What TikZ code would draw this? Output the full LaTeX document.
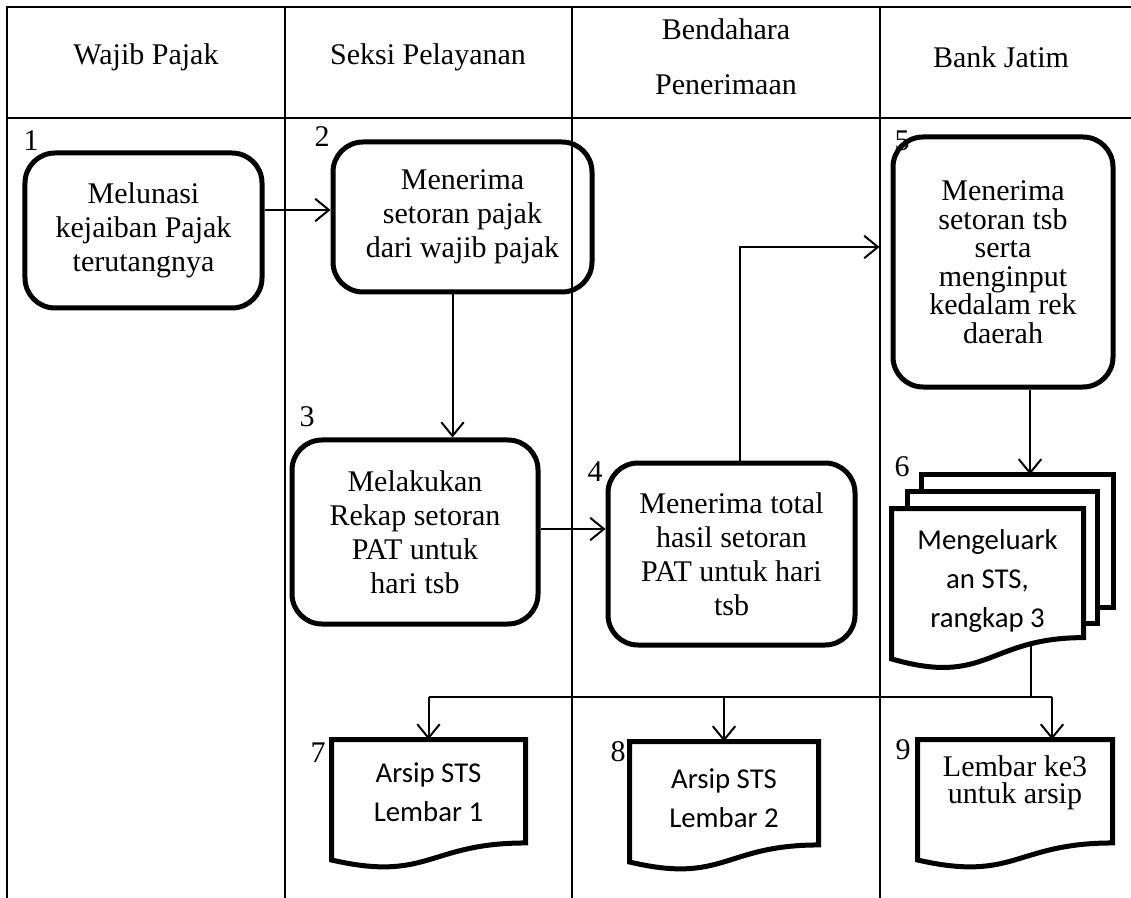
\documentclass[tikz,border=0pt]{standalone}
\usepackage{fontspec}
\setmainfont{Liberation Serif}
\newfontfamily\calibri{Carlito}
\usetikzlibrary{arrows.meta,calc}
\pgfdeclarelayer{bg}
\pgfsetlayers{bg,main}

% document symbol (wavy bottom) drawn round an empty node
\newcommand{\docshape}[1]{%
  \draw[docline] (#1.north west) -- (#1.north east)
    -- ($(#1.north east)!0.802!(#1.south east)$)
    .. controls ($(#1.north)!0.802!(#1.south)$) and ($(#1.north)!1.1075!(#1.south)$)
    .. ($(#1.north west)!0.934!(#1.south west)$) -- cycle;}

\begin{document}
\begin{tikzpicture}[x=0.4pt, y=-0.4pt,
  lane/.style={line width=0.8pt},
  link/.style={line width=0.8pt},
  arr/.style={line width=0.8pt, -{Straight Barb[length=5.5pt,width=9pt]}},
  proc/.style={draw, line width=2pt, rounded corners=12pt, align=center,
    font=\fontsize{12}{13.6}\selectfont},
  docbox/.style={inner sep=0pt},
  docline/.style={line width=2pt, fill=white},
  doctxt/.style={align=center, font=\calibri\fontsize{11.5}{15.5}\selectfont},
  num/.style={inner sep=0pt, font=\fontsize{12}{14}\selectfont},
  head/.style={align=center, font=\fontsize{12}{22}\selectfont}]
  \useasboundingbox (0,0) rectangle (1131,898);

  % lanes
  \draw[lane] (7,898) -- (7,7) -- (1131,7);
  \draw[lane] (7,118) -- (1131,118);
  \foreach \x in {285,572,880}
    \draw[lane] (\x,7) -- (\x,898);

  % headers
  \node[head] (h1) at (146,57) {Wajib Pajak};
  \node[head] (h2) at (428,57) {Seksi Pelayanan};
  \node[head] (h3) at (726,57) {Bendahara\\Penerimaan};
  \node[head] (h4) at (1001,57) {Bank Jatim};

  % process steps
  \node[proc, minimum width=94.8pt, minimum height=62pt] (b1) at (143.5,230.5)
    {Melunasi\\kejaiban Pajak\\terutangnya};
  \node[proc, minimum width=103.6pt, minimum height=60pt] (b2) at (462.5,217)
    {Menerima\\setoran pajak\\dari wajib pajak};
  \node[proc, minimum width=98.4pt, minimum height=73.6pt] (b3) at (415,532)
    {Melakukan\\Rekap setoran\\PAT untuk\\hari tsb};
  \node[proc, minimum width=98.8pt, minimum height=72.8pt] (b4) at (731.5,554)
    {Menerima total\\hasil setoran\\PAT untuk hari\\tsb};
  \node[proc, minimum width=88pt, minimum height=100pt,
    font=\fontsize{12}{11.4}\selectfont] (b5) at (1003,262)
    {Menerima\\setoran tsb\\serta\\menginput\\kedalam rek\\daerah};

  % documents
  \node[docbox, minimum width=76.4pt, minimum height=64pt] (d6) at (987.5,589) {};
  \node[docbox, minimum width=77.2pt, minimum height=51.2pt] (d7) at (428.5,804) {};
  \node[docbox, minimum width=75.2pt, minimum height=51.2pt] (d8) at (724,806) {};
  \node[docbox, minimum width=77.6pt, minimum height=51.2pt] (d9) at (1015,804) {};
  \begin{pgfonlayer}{bg}
    \draw[docline] ([shift={(30,-34)}]d6.north west) rectangle ([shift={(30,-62)}]d6.south east);
    \draw[docline] ([shift={(16,-17)}]d6.north west) rectangle ([shift={(14,-46)}]d6.south east);
    \docshape{d6}
    \docshape{d7}
    \docshape{d8}
    \docshape{d9}
  \end{pgfonlayer}
  \node[doctxt] (t6) at ([yshift=3.2pt]d6.center) {Mengeluark\\an STS,\\rangkap 3};
  \node[doctxt] (t7) at ([yshift=4.8pt]d7.center) {Arsip STS\\Lembar 1};
  \node[doctxt] (t8) at ([yshift=3.2pt]d8.center) {Arsip STS\\Lembar 2};
  \node[align=center, font=\fontsize{12}{10.8}\selectfont] (t9)
    at ([yshift=8.4pt]d9.center) {Lembar ke3\\untuk arsip};

  % step numbers
  \node[num] (n1) at (31,141) {1};
  \node[num] (n2) at (322,137) {2};
  \node[num] (n3) at (307,417) {3};
  \node[num] (n4) at (595,472) {4};
  \node[num] (n5) at (902,141) {5};
  \node[num] (n6) at (902,467) {6};
  \node[num] (n7) at (318,753) {7};
  \node[num] (n8) at (618,752) {8};
  \node[num] (n9) at (903,750) {9};

  % flow
  \coordinate (b2in) at ([yshift=2.8pt]b2.west);
  \draw[arr] (b1.east |- b2in) -- (b2in);
  \draw[arr] ([xshift=-4pt]b2.south) -- ([xshift=-4pt]b2.south |- b3.north);
  \coordinate (b3out) at ([yshift=1.2pt]b3.east);
  \draw[arr] (b3out) -- (b3out -| b4.west);
  \draw[arr, shorten >=4.4pt] ([xshift=3.4pt]b4.north) |- ([yshift=6pt]b5.west);
  \coordinate (p3) at ([shift={(30,-34)}]d6.north west);
  \draw[arr] ([xshift=10.8pt]b5.south) -- ([xshift=10.8pt]b5.south |- p3);

  % copies of the STS
  \coordinate (d6out) at ([shift={(-53,-26)}]d6.south east);
  \draw[link] (d6out) -- ++(0,53) coordinate (split);
  \coordinate (d9in) at ([xshift=14.8pt]d9.north);
  \draw[link] (split -| d7.north) -- (split -| d9in);
  \draw[arr] (split -| d7.north) -- (d7.north);
  \draw[arr] (split -| d8.north) -- (d8.north);
  \draw[arr] (split -| d9in) -- (d9in);
\end{tikzpicture}
\end{document}
